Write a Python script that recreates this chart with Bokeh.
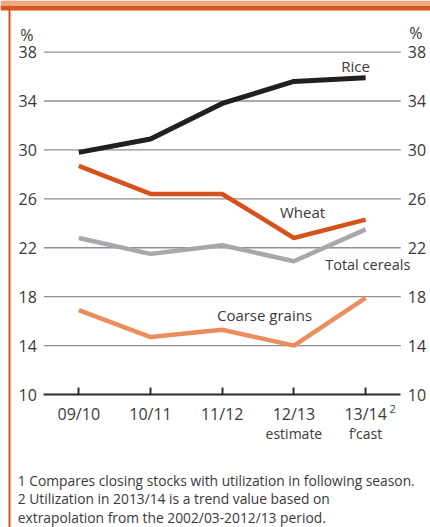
from bokeh.plotting import figure
from bokeh.models import Range1d, FixedTicker, LinearAxis, Label, BoxAnnotation
from bokeh.embed import file_html
from bokeh.resources import INLINE

seasons = ["09/10", "10/11", "11/12", "12/13", "13/14"]
sublabels = ["", "", "", "estimate", "f\u2019cast"]
rice = [29.8, 30.9, 33.8, 35.6, 35.9]
wheat = [28.7, 26.4, 26.4, 22.8, 24.3]
total_cereals = [22.8, 21.5, 22.2, 20.9, 23.5]
coarse_grains = [16.9, 14.7, 15.3, 14.0, 17.9]
y_ticks = [10, 14, 18, 22, 26, 30, 34, 38]
footnotes = [
    "1 Compares closing stocks with utilization in following season.",
    "2 Utilization in 2013/14 is a trend value based on",
    "extrapolation from the 2002/03-2012/13 period.",
]

FONT = "Open Sans"
TXT = "#3a3a3a"
xs = list(range(len(seasons)))

# chart area limits (data units)
X_LO, X_HI = -0.488, 4.49
Y_LO = 10

p = figure(width=430, height=527, output_backend="svg", toolbar_location=None,
           x_range=Range1d(-1.092, 4.905), y_range=Range1d(-0.875, 42.22),
           min_border=0, x_axis_location=None, y_axis_location=None)
p.outline_line_color = None
p.background_fill_color = "white"
p.border_fill_color = "white"
p.grid.grid_line_color = None

# gridlines
grid_y = [t for t in y_ticks if t != Y_LO]
p.segment(x0=[X_LO] * len(grid_y), x1=[X_HI] * len(grid_y), y0=grid_y, y1=grid_y,
          line_color="#8f8f8f", line_width=1.3)

# y axes
left = LinearAxis(ticker=FixedTicker(ticks=y_ticks), fixed_location=X_LO)
right = LinearAxis(ticker=FixedTicker(ticks=y_ticks), fixed_location=X_HI)
p.add_layout(left, "left")
p.add_layout(right, "right")
for ax in [left, right]:
    ax.axis_line_color = None
    ax.major_tick_line_color = None
    ax.major_tick_in = 0
    ax.major_tick_out = 0
    ax.minor_tick_line_color = None
    ax.major_label_text_font = FONT
    ax.major_label_text_font_size = "16px"
    ax.major_label_text_color = TXT
    ax.major_label_standoff = 7

# x axis
xa = LinearAxis(ticker=FixedTicker(ticks=xs), fixed_location=Y_LO, bounds=(X_LO, X_HI))
p.add_layout(xa, "below")
xa.major_label_overrides = {i: s for i, s in enumerate(seasons)}
xa.axis_line_color = "#2b2b2b"
xa.axis_line_width = 2
xa.major_tick_line_color = "#2b2b2b"
xa.major_tick_line_width = 2
xa.major_tick_in = 7
xa.major_tick_out = 0
xa.minor_tick_line_color = None
xa.major_label_text_font = FONT
xa.major_label_text_font_size = "16px"
xa.major_label_text_color = TXT
xa.major_label_standoff = 8

p.line(xs, coarse_grains, line_color="#ec8d60", line_width=4.5)
p.line(xs, total_cereals, line_color="#a7a8ac", line_width=4.5)
p.line(xs, wheat, line_color="#d6521d", line_width=4.5)
p.line(xs, rice, line_color="#231f20", line_width=5)

def lab(x, y, text, size="15px", align="center", baseline="middle", xo=0, yo=0):
    p.add_layout(Label(x=x, y=y, text=text, text_font=FONT, text_font_size=size,
                       text_color=TXT, text_align=align, text_baseline=baseline,
                       x_offset=xo, y_offset=yo))

lab(3.86, 36.85, "Rice")
lab(3.12, 24.9, "Wheat")
lab(4.03, 20.64, "Total cereals", size="14.5px")
lab(2.59, 16.47, "Coarse grains")

lab(X_LO, 39.43, "%", size="16px", xo=-17)
lab(X_HI, 39.6, "%", size="16px", xo=15)

for i, s in enumerate(sublabels):
    if s:
        lab(i, Y_LO, s, size="14px", yo=-39)
lab(4, Y_LO, "2", size="11px", xo=27, yo=-14)

for k, t in enumerate(footnotes):
    lab(X_LO, Y_LO, t, size="13.8px", align="left", xo=-26, yo=-85.5 - 18.5 * k)

for l, r, t, b, c in [(8, 10, 0, 527, "#d9541e"), (0, 430, 5, 10, "#d9541e"), (0, 430, 0, 5, "#f0a77f")]:
    p.add_layout(BoxAnnotation(left=l, right=r, top=t, bottom=b,
                               left_units="canvas", right_units="canvas",
                               top_units="canvas", bottom_units="canvas",
                               fill_color=c, fill_alpha=1, line_color=None))

open("out.html", "w").write(file_html(p, INLINE))
